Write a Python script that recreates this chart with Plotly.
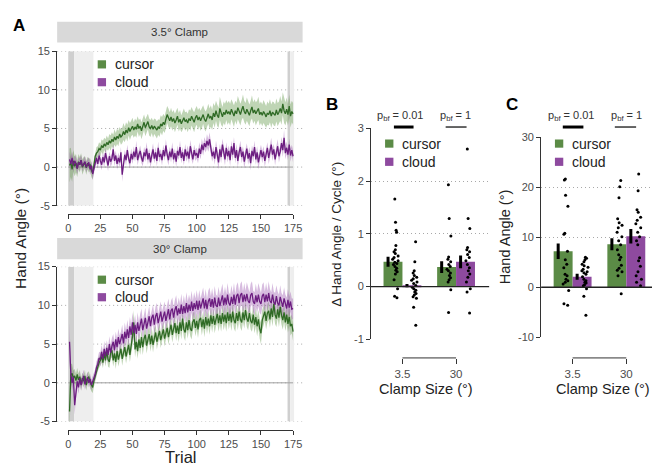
import plotly.graph_objects as go

# ---------------- data ----------------
trials = list(range(1, 176))

clamp35_cursor_mean = [
    0.2, 0.6, -0.3, 0.8, 0.1, 0.5, -0.2, 0.7, 0.3, 0.9, 0.0, 0.4, 0.6, -0.1, 0.5, 0.2, 0.3, -0.4, -0.8, 0.2, 1.4, 1.8, 2.0, 2.4, 2.2,
    2.8, 2.5, 3.0, 2.7, 3.2, 2.9, 3.4, 3.1, 3.6, 3.3, 3.9, 3.5, 4.0, 3.7, 4.3, 3.9, 4.1, 4.6, 4.2, 4.8, 4.4, 5.1, 4.6, 5.0, 5.3,
    4.8, 5.2, 4.9, 5.6, 5.0, 5.3, 4.7, 5.4, 5.8, 5.1, 5.5, 5.9, 5.2, 5.0, 5.4, 4.9, 5.3, 5.1, 4.8, 5.2, 5.0, 5.6, 5.3, 5.8, 5.5,
    6.2, 6.8, 6.4, 6.0, 6.5, 5.9, 6.3, 5.7, 6.1, 6.6, 5.8, 6.2, 5.6, 6.0, 6.4, 5.9, 6.1, 5.7, 6.3, 6.0, 6.6, 6.2, 5.8, 6.4, 6.7,
    6.1, 6.5, 6.0, 6.3, 6.8, 6.2, 5.9, 6.4, 6.9, 6.3, 6.6, 6.1, 7.0, 6.5, 7.3, 6.7, 6.4, 7.6, 6.9, 6.5, 7.1, 6.8, 7.4, 6.9, 7.2,
    6.8, 7.5, 7.0, 6.6, 7.3, 6.9, 7.7, 7.1, 6.8, 7.4, 7.9, 7.2, 6.9, 7.5, 7.1, 6.7, 7.3, 7.8, 7.0, 7.4, 6.9, 7.2, 7.6, 6.8, 7.1,
    6.7, 7.2, 6.9, 6.5, 7.0, 6.8, 7.3, 6.6, 7.1, 6.9, 6.7, 7.4, 6.8, 7.1, 7.6, 7.0, 8.2, 7.3, 6.9, 7.5, 6.8, 7.9, 6.6, 7.2, 6.9,
]
clamp35_cursor_sem = [
    2.2, 1.9, 1.6, 1.4, 1.3, 1.2, 1.1, 1.0, 1.0, 0.9, 1.0, 0.9, 0.8, 0.9, 0.8, 0.9, 0.8, 0.9, 0.8, 0.8, 0.7, 0.8, 0.7, 0.8, 0.8,
    0.8, 0.9, 0.8, 0.9, 0.9, 0.8, 0.9, 1.0, 0.9, 0.9, 1.0, 0.9, 1.0, 1.0, 0.9, 1.0, 1.0, 1.1, 1.0, 1.0, 1.1, 1.0, 1.1, 1.0, 1.1,
    1.0, 1.1, 1.1, 1.0, 1.1, 1.0, 1.1, 1.1, 1.0, 1.1, 1.1, 1.0, 1.1, 1.1, 1.0, 1.1, 1.0, 1.1, 1.1, 1.0, 1.1, 1.1, 1.2, 1.1, 1.1,
    1.2, 1.1, 1.2, 1.1, 1.2, 1.2, 1.1, 1.2, 1.2, 1.1, 1.2, 1.2, 1.1, 1.2, 1.2, 1.2, 1.1, 1.2, 1.2, 1.3, 1.2, 1.2, 1.3, 1.2, 1.2,
    1.3, 1.2, 1.3, 1.3, 1.2, 1.3, 1.3, 1.2, 1.3, 1.3, 1.4, 1.3, 1.3, 1.4, 1.3, 1.4, 1.3, 1.5, 1.4, 1.3, 1.4, 1.4, 1.3, 1.4, 1.4,
    1.4, 1.3, 1.4, 1.4, 1.3, 1.4, 1.5, 1.4, 1.4, 1.3, 1.5, 1.4, 1.4, 1.5, 1.4, 1.4, 1.3, 1.5, 1.4, 1.4, 1.5, 1.4, 1.5, 1.4, 1.4,
    1.4, 1.5, 1.4, 1.4, 1.5, 1.4, 1.5, 1.5, 1.4, 1.5, 1.4, 1.5, 1.5, 1.4, 1.6, 1.5, 1.5, 1.6, 1.5, 1.5, 1.4, 1.5, 1.5, 1.4, 1.4,
]
clamp35_cloud_mean = [
    1.0, 0.4, 1.2, 0.2, 0.8, 0.5, -0.2, 0.6, 0.3, 0.9, 0.1, 0.5, 0.7, 0.0, 0.4, 0.6, -0.3, 0.2, -0.9, -0.2, 0.6, 1.2, 0.4, 1.5, 0.8,
    0.3, 1.3, 0.6, 1.8, 0.9, 0.2, 1.4, 0.7, 1.1, 2.3, 0.8, 1.5, 0.4, 1.2, 0.6, 1.9, -1.0, 0.7, 1.6, 0.9, 2.2, 1.1, 0.5, 1.7, 1.0,
    2.0, 1.3, 2.6, 0.9, 1.6, 2.1, 1.2, 0.7, 1.9, 1.4, 2.4, 1.0, 1.8, 0.6, 1.5, 2.3, 1.1, 1.9, 0.8, 2.5, 1.3, 1.7, 0.9, 2.2, 1.4,
    2.8, 1.6, 0.9, 2.0, 1.3, 2.4, 1.0, 1.8, 0.7, 2.1, 1.5, 2.6, 1.2, 1.9, 0.8, 2.3, 1.4, 2.0, 1.1, 2.7, 1.6, 1.0, 2.2, 1.5, 1.8,
    1.2, 2.4, 1.7, 2.9, 2.2, 3.1, 2.6, 3.4, 2.8, 3.6, 2.5, 1.4, 2.0, 1.1, 2.6, 1.5, 0.6, 2.3, 1.3, 2.9, 1.7, 1.0, 2.5, 1.4, 2.1,
    0.9, 2.7, 1.6, 3.1, 1.2, 2.2, 0.8, 1.9, 2.6, 1.3, 2.0, 0.7, 1.7, 2.4, 1.1, 1.8, 0.5, 2.1, 1.4, 2.6, 1.0, 1.9, 0.6, 1.5, 2.2,
    1.3, 2.0, 0.8, 1.7, 2.5, 1.2, 1.9, 2.9, 1.6, 2.3, 1.0, 2.1, 2.7, 1.4, 2.0, 3.1, 2.2, 3.8, 1.8, 2.5, 1.6, 2.9, 1.5, 2.2, 1.4,
]
clamp35_cloud_sem = [
    1.0, 0.9, 0.8, 0.8, 0.7, 0.8, 0.7, 0.7, 0.8, 0.7, 0.7, 0.6, 0.7, 0.7, 0.6, 0.7, 0.7, 0.6, 0.8, 0.7, 0.6, 0.7, 0.6, 0.7, 0.6,
    0.7, 0.6, 0.7, 0.7, 0.6, 0.7, 0.6, 0.7, 0.7, 0.8, 0.7, 0.6, 0.7, 0.7, 0.6, 0.7, 0.9, 0.7, 0.6, 0.7, 0.7, 0.6, 0.7, 0.7, 0.6,
    0.7, 0.6, 0.8, 0.7, 0.6, 0.7, 0.7, 0.6, 0.7, 0.7, 0.8, 0.7, 0.6, 0.7, 0.7, 0.8, 0.6, 0.7, 0.7, 0.8, 0.7, 0.6, 0.7, 0.7, 0.6,
    0.8, 0.7, 0.7, 0.6, 0.7, 0.8, 0.7, 0.6, 0.7, 0.7, 0.6, 0.8, 0.7, 0.7, 0.6, 0.7, 0.7, 0.8, 0.7, 0.8, 0.7, 0.6, 0.7, 0.7, 0.7,
    0.7, 0.8, 0.7, 0.8, 0.7, 0.8, 0.7, 0.9, 0.8, 0.9, 0.8, 0.7, 0.7, 0.8, 0.8, 0.7, 0.9, 0.7, 0.8, 0.8, 0.7, 0.8, 0.7, 0.8, 0.7,
    0.8, 0.7, 0.8, 0.8, 0.7, 0.8, 0.8, 0.7, 0.8, 0.8, 0.7, 0.9, 0.8, 0.7, 0.8, 0.8, 0.9, 0.7, 0.8, 0.8, 0.7, 0.8, 0.9, 0.8, 0.7,
    0.8, 0.7, 0.8, 0.8, 0.7, 0.8, 0.8, 0.9, 0.8, 0.7, 0.8, 0.8, 0.9, 0.8, 0.7, 0.8, 0.9, 1.0, 0.8, 0.8, 0.7, 0.8, 0.8, 0.7, 0.8,
]
clamp30_cursor_mean = [
    -3.7, 1.0, 1.2, 0.6, 0.9, 0.3, 1.1, 0.4, 0.8, -0.2, 0.6, 0.2, 0.9, -0.3, 0.5, 0.8, 0.1, -0.4, -0.6, 0.3, 0.9, 1.6, 2.3, 2.6, 2.9,
    3.4, 2.6, 3.8, 2.9, 4.1, 3.0, 2.7, 3.9, 4.2, 2.9, 3.8, 2.7, 4.1, 3.0, 3.9, 4.4, 3.1, 4.1, 4.6, 3.4, 4.3, 4.9, 3.6, 4.7, 6.0,
    7.8, 4.3, 5.3, 4.1, 5.6, 4.5, 5.9, 4.6, 5.7, 6.2, 4.8, 5.8, 6.3, 5.0, 6.1, 4.9, 6.0, 6.5, 5.3, 6.2, 6.7, 5.5, 6.4, 6.9, 5.7,
    6.6, 7.1, 5.9, 6.9, 7.5, 6.2, 7.2, 7.7, 6.4, 7.4, 6.3, 7.8, 6.7, 8.3, 6.9, 6.5, 7.8, 6.8, 8.1, 7.0, 6.7, 7.9, 8.2, 7.1, 8.0,
    6.9, 8.1, 8.4, 7.2, 8.2, 7.0, 8.5, 7.4, 8.3, 7.3, 8.7, 7.6, 8.6, 7.5, 8.4, 8.9, 7.7, 8.7, 7.6, 9.0, 7.9, 8.8, 7.7, 9.1, 8.0,
    8.9, 7.8, 9.2, 8.1, 7.7, 9.0, 8.0, 9.2, 8.2, 7.8, 9.1, 8.1, 9.4, 8.3, 7.9, 9.0, 8.0, 7.7, 8.8, 7.5, 8.5, 7.3, 8.2, 7.0, 6.4,
    8.1, 8.7, 9.2, 8.0, 9.0, 9.3, 8.2, 9.6, 8.5, 10.2, 8.8, 8.3, 9.5, 8.4, 9.8, 8.7, 8.1, 9.1, 7.8, 8.8, 7.6, 8.5, 7.3, 7.6, 6.6,
]
clamp30_cursor_sem = [
    3.0, 1.5, 1.2, 1.0, 0.9, 0.9, 0.8, 0.8, 0.9, 0.8, 0.7, 0.8, 0.8, 0.7, 0.8, 0.7, 0.8, 0.7, 0.7, 0.8, 0.7, 0.7, 0.8, 0.7, 0.8,
    0.8, 0.7, 0.8, 0.8, 0.8, 0.9, 0.8, 0.8, 0.9, 0.8, 0.9, 0.9, 0.8, 0.9, 0.9, 0.8, 0.9, 0.9, 1.0, 0.9, 0.9, 1.0, 0.9, 1.0, 1.2,
    1.6, 1.0, 0.9, 1.0, 1.0, 0.9, 1.0, 1.0, 0.9, 1.0, 1.0, 1.0, 0.9, 1.0, 1.0, 1.0, 1.0, 0.9, 1.0, 1.0, 1.0, 1.0, 1.0, 1.0, 1.0,
    1.0, 1.0, 1.0, 1.0, 1.1, 1.0, 1.0, 1.1, 1.0, 1.0, 1.1, 1.0, 1.1, 1.2, 1.0, 1.1, 1.0, 1.1, 1.1, 1.0, 1.1, 1.1, 1.0, 1.1, 1.1,
    1.1, 1.0, 1.1, 1.1, 1.0, 1.1, 1.1, 1.1, 1.0, 1.1, 1.1, 1.1, 1.0, 1.1, 1.1, 1.2, 1.1, 1.1, 1.0, 1.1, 1.1, 1.2, 1.1, 1.1, 1.1,
    1.1, 1.1, 1.2, 1.1, 1.1, 1.1, 1.2, 1.1, 1.1, 1.1, 1.2, 1.1, 1.2, 1.1, 1.1, 1.2, 1.1, 1.1, 1.2, 1.1, 1.2, 1.3, 1.2, 1.3, 1.4,
    1.3, 1.2, 1.2, 1.1, 1.2, 1.2, 1.1, 1.2, 1.2, 1.4, 1.2, 1.1, 1.2, 1.2, 1.3, 1.2, 1.2, 1.2, 1.1, 1.2, 1.1, 1.2, 1.2, 1.2, 1.2,
]
clamp30_cloud_mean = [
    5.3, 1.2, 0.0, 0.8, -2.9, -1.0, 0.2, -0.6, 0.6, -0.3, 0.4, 0.9, -0.2, 0.3, 0.7, 0.0, 0.5, -0.3, 0.2, 0.6, 1.1, 2.0, 2.4, 3.2, 3.0,
    4.0, 3.1, 4.4, 3.4, 4.5, 3.6, 5.0, 3.9, 4.7, 5.3, 4.2, 5.6, 4.6, 5.9, 5.0, 5.5, 6.3, 5.1, 6.6, 5.7, 6.9, 5.8, 7.3, 6.2, 7.8,
    6.4, 7.5, 6.3, 7.8, 6.7, 7.6, 8.3, 6.8, 7.9, 8.4, 7.0, 8.1, 8.6, 7.3, 8.4, 8.8, 7.5, 8.6, 9.0, 7.7, 8.5, 9.2, 7.9, 8.7, 9.2,
    8.0, 8.9, 9.5, 8.2, 9.3, 9.6, 8.4, 9.4, 9.9, 8.7, 9.6, 8.9, 10.1, 8.9, 9.9, 9.0, 10.3, 9.1, 10.1, 9.3, 10.5, 9.3, 10.3, 9.5, 10.6,
    9.4, 10.6, 9.6, 10.4, 10.9, 9.6, 10.7, 9.5, 10.5, 10.9, 9.8, 10.8, 9.7, 11.0, 10.0, 9.8, 11.0, 9.9, 10.8, 11.3, 10.0, 11.0, 10.1, 11.4, 10.3,
    10.0, 11.1, 10.2, 11.4, 10.1, 11.2, 11.5, 10.3, 11.3, 11.6, 10.4, 11.4, 10.5, 11.5, 10.6, 10.3, 11.3, 11.6, 10.5, 10.2, 11.3, 10.4, 11.4, 10.5, 10.2,
    11.2, 11.5, 10.4, 11.4, 10.5, 11.6, 10.6, 10.3, 11.4, 10.4, 10.1, 11.2, 10.3, 10.0, 11.1, 10.2, 9.8, 10.9, 10.0, 9.6, 10.7, 9.7, 10.5, 9.5, 9.6,
]
clamp30_cloud_sem = [
    2.5, 1.3, 1.0, 1.0, 1.2, 0.9, 0.8, 0.8, 0.8, 0.7, 0.7, 0.8, 0.7, 0.7, 0.7, 0.6, 0.7, 0.7, 0.6, 0.7, 0.7, 0.8, 0.8, 0.8, 0.9,
    0.9, 0.9, 1.0, 0.9, 1.0, 1.0, 1.0, 1.0, 1.1, 1.0, 1.1, 1.0, 1.1, 1.1, 1.1, 1.1, 1.2, 1.1, 1.2, 1.1, 1.2, 1.2, 1.2, 1.2, 1.3,
    1.2, 1.3, 1.2, 1.3, 1.2, 1.3, 1.3, 1.2, 1.3, 1.3, 1.2, 1.3, 1.3, 1.3, 1.2, 1.3, 1.3, 1.3, 1.3, 1.2, 1.3, 1.3, 1.3, 1.3, 1.3,
    1.3, 1.3, 1.4, 1.3, 1.3, 1.4, 1.3, 1.3, 1.4, 1.3, 1.4, 1.3, 1.4, 1.3, 1.4, 1.3, 1.4, 1.4, 1.3, 1.4, 1.4, 1.3, 1.4, 1.4, 1.4,
    1.4, 1.4, 1.3, 1.4, 1.4, 1.4, 1.4, 1.3, 1.4, 1.4, 1.4, 1.4, 1.3, 1.5, 1.4, 1.4, 1.4, 1.4, 1.4, 1.5, 1.4, 1.4, 1.4, 1.5, 1.4,
    1.4, 1.5, 1.4, 1.5, 1.4, 1.4, 1.5, 1.4, 1.5, 1.5, 1.4, 1.5, 1.4, 1.5, 1.5, 1.4, 1.5, 1.5, 1.4, 1.5, 1.5, 1.4, 1.5, 1.5, 1.4,
    1.5, 1.5, 1.4, 1.5, 1.4, 1.5, 1.5, 1.4, 1.5, 1.4, 1.5, 1.4, 1.5, 1.4, 1.5, 1.4, 1.5, 1.4, 1.4, 1.4, 1.4, 1.4, 1.3, 1.4, 1.3,
]

clamp_sizes = ["3.5", "30"]
groups = ["cursor", "cloud"]

# Panel B: change in hand angle per cycle
b_means = {"cursor": [0.47, 0.37], "cloud": [0.02, 0.47]}
b_sems = {"cursor": [0.095, 0.11], "cloud": [0.03, 0.12]}
b_points = {
    ("cursor", 0): [1.66, 1.22, 1.07, 1.03, 0.78, 0.70, 0.66, 0.63, 0.58, 0.55, 0.52, 0.49, 0.46, 0.44,
                    0.42, 0.38, 0.35, 0.31, 0.28, 0.24, 0.13, -0.04, -0.18, -0.21],
    ("cloud", 0): [0.85, 0.47, 0.30, 0.26, 0.21, 0.18, 0.15, 0.12, 0.09, 0.06, 0.02, -0.01, -0.04,
                   -0.07, -0.10, -0.13, -0.16, -0.19, -0.22, -0.39, -0.73],
    ("cursor", 1): [1.93, 1.29, 0.96, 0.56, 0.52, 0.47, 0.42, 0.38, 0.33, 0.30, 0.26, 0.21, 0.17, 0.13,
                    0.09, -0.06, -0.49, -1.14],
    ("cloud", 1): [2.61, 1.29, 1.10, 0.74, 0.70, 0.66, 0.61, 0.55, 0.49, 0.42, 0.36, 0.30, 0.24, 0.18,
                   0.09, -0.04, -0.10, -0.50],
}

# Panel C: hand angle
c_means = {"cursor": [7.2, 8.6], "cloud": [2.1, 10.2]}
c_sems = {"cursor": [1.55, 1.2], "cloud": [0.6, 1.45]}
c_points = {
    ("cursor", 0): [21.7, 21.5, 18.4, 16.2, 10.8, 10.6, 7.2, 5.5, 4.6, 3.9, 2.6, 2.3, 1.6, 1.3, 1.0,
                    0.65, -0.65, -3.3, -3.6],
    ("cloud", 0): [6.0, 5.8, 5.5, 5.1, 4.6, 4.3, 4.0, 3.6, 3.3, 3.1, 2.9, 2.6, 2.1, 1.6, 1.3, 1.0,
                   0.85, 0.5, 0.3, -0.3, -1.8, -5.6],
    ("cursor", 1): [21.4, 20.1, 17.9, 13.7, 12.9, 12.4, 11.9, 11.0, 10.1, 9.3, 8.5, 7.5, 6.5, 6.0,
                    5.5, 4.4, 3.8, 3.4, 3.1, 2.3, -1.3],
    ("cloud", 1): [30.8, 22.7, 19.3, 15.5, 15.0, 14.0, 13.4, 12.7, 11.9, 11.0, 10.1, 9.3, 8.5, 5.9,
                   5.3, 4.2, 3.1, 2.3, 1.6, 1.0, 0.3],
}

# ---------------- style ----------------
W, H = 660, 467
FONT = "Liberation Sans, Arial, Helvetica, sans-serif"
TXT = "#222222"
TICK = "#4d4d4d"
DOT = "1px,3px"
LINE_COL = {"cursor": "#2f6a25", "cloud": "#6c1d80"}
FILL_COL = {"cursor": "rgba(95,150,70,0.40)", "cloud": "rgba(150,80,170,0.38)"}
BAR_COL = {"cursor": "#5b8b46", "cloud": "#8e4a9f"}


def px(x):
    return x / W


def py(y):
    return 1 - y / H


fig = go.Figure()
shapes = []
annotations = []


def ann(x, y, text, size=12, color=TXT, xanchor="center", angle=0, bold=False, xref="paper", yref="paper"):
    annotations.append(dict(
        x=x, y=y, xref=xref, yref=yref, text=f"<b>{text}</b>" if bold else text,
        showarrow=False, xanchor=xanchor, yanchor="middle", textangle=angle,
        font=dict(family=FONT, size=size, color=color)))


# ---------------- Panel A ----------------
A_LEFT, A_RIGHT = 47, 297
A_X0, A_X175 = 58.3, 287.3
sc = (A_X175 - A_X0) / 175
a_xrange = [-(A_X0 - A_LEFT) / sc, 175 + (A_RIGHT - A_X175) / sc]

panels_A = [
    dict(x="x", y="y", xd="x3", top=38.3, bot=196.7, axis_y=205, strip=(8, 29.3), title="3.5° Clamp",
         series={"cursor": (clamp35_cursor_mean, clamp35_cursor_sem),
                 "cloud": (clamp35_cloud_mean, clamp35_cloud_sem)},
         leg=(51.7, 70)),
    dict(x="x2", y="y2", xd="x4", top=259.3, bot=418.3, axis_y=426.7, strip=(230, 251.7), title="30° Clamp",
         series={"cursor": (clamp30_cursor_mean, clamp30_cursor_sem),
                 "cloud": (clamp30_cloud_mean, clamp30_cloud_sem)},
         leg=(272.7, 290.7)),
]

layout_axes = {}
for i, p in enumerate(panels_A):
    xn = "xaxis" if p["x"] == "x" else "xaxis" + p["x"][1:]
    yn = "yaxis" if p["y"] == "y" else "yaxis" + p["y"][1:]
    xdn = "xaxis" + p["xd"][1:]
    layout_axes[xn] = dict(domain=[px(A_LEFT), px(A_RIGHT)], range=a_xrange, visible=False,
                           anchor=p["y"], fixedrange=True)
    layout_axes[yn] = dict(domain=[py(p["bot"]), py(p["top"])], range=[-5, 15], anchor=p["x"],
                           showline=True, linecolor="#333333", linewidth=1, ticks="outside", ticklen=4,
                           tickcolor="#333333", tickvals=[-5, 0, 5, 10, 15],
                           ticktext=["-5", "0", "5", "10", "15"],
                           tickfont=dict(family=FONT, size=11, color=TICK), showgrid=False, zeroline=False)
    layout_axes[xdn] = dict(domain=[px(A_X0), px(A_X175)], range=[0, 175], anchor="free",
                            position=py(p["axis_y"]), showline=True, linecolor="#333333", linewidth=1,
                            ticks="outside", ticklen=4, tickcolor="#333333",
                            tickvals=[0, 25, 50, 75, 100, 125, 150, 175],
                            tickfont=dict(family=FONT, size=11, color=TICK), showgrid=False, zeroline=False)
    # dummy trace so the display axis is drawn
    fig.add_trace(go.Scatter(x=[None], y=[None], xaxis=p["xd"], yaxis=p["y"], showlegend=False,
                             hoverinfo="skip"))

    # grey shaded trial blocks
    for (x0, x1, col) in [(0, 4.6, "#cfcfcf"), (4.6, 19.6, "#eeeeee"),
                          (170.7, 172.7, "#cfcfcf"), (172.7, 175.8, "#eeeeee")]:
        shapes.append(dict(type="rect", xref=p["x"], yref=p["y"], x0=x0, x1=x1, y0=-5, y1=15,
                           fillcolor=col, line=dict(width=0), layer="below"))
    # dotted grid lines
    for v in [-5, 0, 5, 10, 15]:
        shapes.append(dict(type="line", xref="paper", yref=p["y"], x0=px(A_LEFT), x1=px(A_RIGHT), y0=v, y1=v,
                           line=dict(color="#a8a8a8", width=1, dash=DOT), layer="below"))
    shapes.append(dict(type="line", xref=p["x"], yref=p["y"], x0=0, x1=175, y0=0, y1=0,
                       line=dict(color="#a0a0a0", width=1), layer="below"))
    # strip header
    shapes.append(dict(type="rect", xref="paper", yref="paper", x0=px(A_LEFT), x1=px(A_RIGHT),
                       y0=py(p["strip"][1]), y1=py(p["strip"][0]), fillcolor="#d9d9d9",
                       line=dict(width=0)))
    ann(px((A_LEFT + A_RIGHT) / 2), py((p["strip"][0] + p["strip"][1]) / 2), p["title"], size=11.5,
        color="#333333")

    # SEM bands + mean lines
    for g in groups:
        m, s = p["series"][g]
        upper = [a + b for a, b in zip(m, s)]
        lower = [a - b for a, b in zip(m, s)]
        fig.add_trace(go.Scatter(x=trials + trials[::-1], y=upper + lower[::-1], fill="toself",
                                 fillcolor=FILL_COL[g], line=dict(width=0), mode="lines",
                                 xaxis=p["x"], yaxis=p["y"], showlegend=False, hoverinfo="skip"))
    for g in groups:
        m, s = p["series"][g]
        fig.add_trace(go.Scatter(x=trials, y=m, mode="lines", line=dict(color=LINE_COL[g], width=1.3),
                                 xaxis=p["x"], yaxis=p["y"], showlegend=False, name=g))

    # legend
    for g, yc in zip(groups, p["leg"]):
        shapes.append(dict(type="rect", xref="paper", yref="paper", x0=px(88.3), x1=px(96.8),
                           y0=py(yc + 4.2), y1=py(yc - 4.2), fillcolor=BAR_COL[g], line=dict(width=0)))
        ann(px(104), py(yc), g, size=14, xanchor="left")

ann(px(9), py(230), "Hand Angle (°)", size=15.5, angle=-90)
ann(px(172.8), py(455), "Trial", size=16.5)
ann(px(8), py(12), "A", size=17, bold=True, color="#000000")

# ---------------- Panels B and C ----------------
BAR_W = 0.353
ERR_OFF = -0.092
DOT_OFF = 0.055


def bar_panel(xa, ya, left_px, right_px, g1_px, g2_px, top_px, bot_px, yr, ytv, means, sems, points,
              axis_px, leg_x, ytitle, ytitle_x, ytitle_size, xtitle_x, letter, letter_x, pvals):
    scale = g2_px - g1_px
    xr = [1 - (g1_px - left_px) / scale, 2 + (right_px - g2_px) / scale]
    xn = "xaxis" + xa[1:]
    yn = "yaxis" + ya[1:]
    layout_axes[xn] = dict(domain=[px(left_px), px(right_px)], range=xr, anchor="free",
                           position=py(axis_px), showline=False, ticks="outside", ticklen=5,
                           tickcolor="#333333", tickvals=[1, 2], ticktext=clamp_sizes,
                           tickfont=dict(family=FONT, size=11.5, color=TICK), showgrid=False,
                           zeroline=False)
    layout_axes[yn] = dict(domain=[py(bot_px), py(top_px)], range=yr, anchor=xa, showline=True,
                           linecolor="#333333", linewidth=1, ticks="outside", ticklen=4,
                           tickcolor="#333333", tickvals=ytv, ticktext=[str(v) for v in ytv],
                           tickfont=dict(family=FONT, size=11, color=TICK), showgrid=True,
                           gridcolor="#a8a8a8", griddash=DOT, gridwidth=1, zeroline=False)
    # bars
    for gi, g in enumerate(groups):
        off = (-0.5 + gi) * BAR_W
        fig.add_trace(go.Bar(x=[1 + off, 2 + off], y=means[g], width=BAR_W, marker=dict(color=BAR_COL[g],
                             line=dict(width=0)), xaxis=xa, yaxis=ya, showlegend=False, name=g))
    # zero line
    shapes.append(dict(type="line", xref="paper", yref=ya, x0=px(left_px), x1=px(right_px), y0=0, y1=0,
                       line=dict(color="#222222", width=1.4)))
    # error bars
    for gi, g in enumerate(groups):
        off = (-0.5 + gi) * BAR_W + ERR_OFF
        fig.add_trace(go.Scatter(x=[1 + off, 2 + off], y=means[g], mode="markers",
                                 marker=dict(size=1, color="rgba(0,0,0,0)"),
                                 error_y=dict(type="data", array=sems[g], width=0, thickness=3,
                                              color="#000000"),
                                 xaxis=xa, yaxis=ya, showlegend=False, hoverinfo="skip"))
    # individual participants
    for gi, g in enumerate(groups):
        for ci in range(2):
            pos = ci + 1 + (-0.5 + gi) * BAR_W + DOT_OFF
            vals = points[(g, ci)]
            fig.add_trace(go.Box(y=vals, x=[pos] * len(vals), width=0.13, boxpoints="all", jitter=1,
                                 pointpos=0, fillcolor="rgba(0,0,0,0)",
                                 line=dict(color="rgba(0,0,0,0)", width=0), whiskerwidth=0,
                                 marker=dict(color="#000000", size=3), xaxis=xa, yaxis=ya,
                                 showlegend=False, hoverinfo="skip"))
    # bracket axis line
    shapes.append(dict(type="line", xref=xa, yref="paper", x0=1, x1=2, y0=py(axis_px), y1=py(axis_px),
                       line=dict(color="#333333", width=1)))
    # legend
    for g, yc in zip(groups, (133, 151.7)):
        shapes.append(dict(type="rect", xref="paper", yref="paper", x0=px(leg_x), x1=px(leg_x + 8.5),
                           y0=py(yc + 4.2), y1=py(yc - 4.2), fillcolor=BAR_COL[g], line=dict(width=0)))
        ann(px(leg_x + 15), py(yc), g, size=14, xanchor="left")
    # p-values
    for (cx, x0, x1, txt, lw) in pvals:
        ann(px(cx), py(104.5), f"p<sub>bf</sub> = {txt}", size=11, color="#333333")
        shapes.append(dict(type="line", xref="paper", yref="paper", x0=px(x0), x1=px(x1), y0=py(116),
                           y1=py(116), line=dict(color="#000000", width=lw)))
    ann(px(ytitle_x), py((top_px + bot_px) / 2), ytitle, size=ytitle_size, angle=-90)
    ann(px(xtitle_x), py(385), "Clamp Size (°)", size=14.5)
    ann(px(letter_x), py(93), letter, size=17, bold=True, color="#000000")


bar_panel("x5", "y5", 366.7, 487, 398.7, 453.3, 117.3, 334, [-1, 3], [-1, 0, 1, 2, 3],
          b_means, b_sems, b_points, 353, 381, "Δ Hand Angle / Cycle (°)", 332, 13.5, 423, "B", 327,
          [(397, 390, 410, "0.01", 3), (453, 442.7, 464, "1", 1.2)])
bar_panel("x6", "y6", 540, 660, 572, 626.7, 126.7, 331.7, [-10, 30], [-10, 0, 10, 20, 30],
          c_means, c_sems, c_points, 353, 554, "Hand Angle (°)", 503, 14.5, 603, "C", 510,
          [(571, 562, 583, "0.01", 3), (627, 615, 636.7, "1", 1.2)])

fig.update_layout(
    width=W, height=H, margin=dict(l=0, r=0, t=0, b=0),
    paper_bgcolor="white", plot_bgcolor="rgba(0,0,0,0)",
    showlegend=False, barmode="overlay", boxmode="overlay",
    shapes=shapes, annotations=annotations,
    font=dict(family=FONT, color=TXT),
    **layout_axes,
)

fig.write_html("out.html")
